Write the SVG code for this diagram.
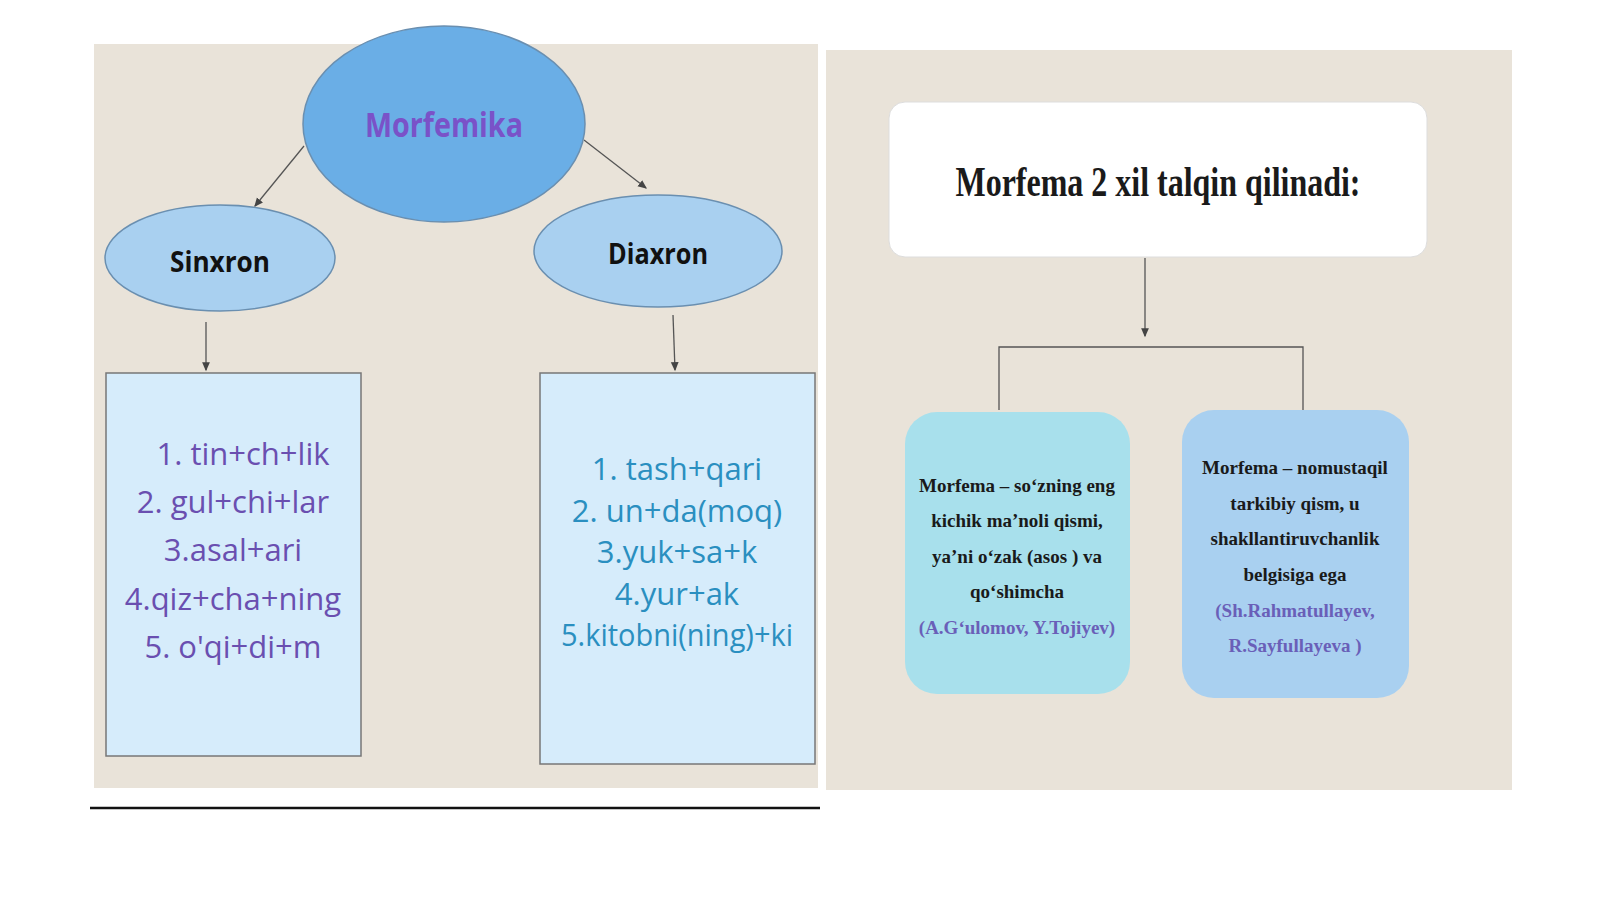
<svg xmlns="http://www.w3.org/2000/svg" width="1600" height="899" viewBox="0 0 1600 899">
<style>
.bg{fill:#e9e3d9}
.ell{stroke:#6a8fb0;stroke-width:1.5}
.lst{font-family:"Open Sans","DejaVu Sans",sans-serif;font-size:31px;text-anchor:middle}
.ser{font-family:"Liberation Serif",serif;font-weight:bold;text-anchor:middle;fill:#1a1a1a}
.con{stroke:#555;stroke-width:1.3;fill:none}
</style>
<defs><marker id="a" markerWidth="8" markerHeight="8" refX="6" refY="4" orient="auto"><path d="M0,1 L7,4 L0,7 z" fill="#444"/></marker></defs>
<rect width="1600" height="899" fill="#fff"/>
<rect class="bg" x="94" y="44" width="724" height="744"/>
<rect class="bg" x="826" y="50" width="686" height="740"/>
<line x1="90" y1="808" x2="820" y2="808" stroke="#111" stroke-width="2.5"/>
<g id="connectors">
<line class="con" x1="304" y1="146" x2="255" y2="206" marker-end="url(#a)"/>
<line class="con" x1="584" y1="140" x2="646" y2="188" marker-end="url(#a)"/>
<line class="con" x1="206" y1="322" x2="206" y2="370" marker-end="url(#a)"/>
<line class="con" x1="673" y1="315" x2="675" y2="370" marker-end="url(#a)"/>
<line class="con" x1="1145" y1="258" x2="1145" y2="336" marker-end="url(#a)"/>
<path class="con" d="M999,410 V347 H1303 V410" stroke="#8aa8c8" stroke-width="2"/>
</g>
<g id="morfemika"><ellipse class="ell" cx="444" cy="124" rx="141" ry="98" fill="#6aaee6"/>
<text x="444" y="137" font-family="Open Sans,DejaVu Sans,sans-serif" font-weight="bold" font-size="34" fill="#7a52c8" text-anchor="middle" textLength="158" lengthAdjust="spacingAndGlyphs">Morfemika</text></g>
<g id="sinxron"><ellipse class="ell" cx="220" cy="258" rx="115" ry="53" fill="#a9d0f0"/>
<text x="220" y="272" font-family="Open Sans,DejaVu Sans,sans-serif" font-weight="bold" font-size="29" fill="#111" text-anchor="middle" textLength="100" lengthAdjust="spacingAndGlyphs">Sinxron</text></g>
<g id="diaxron"><ellipse class="ell" cx="658" cy="251" rx="124" ry="56" fill="#a9d0f0"/>
<text x="658" y="264" font-family="Open Sans,DejaVu Sans,sans-serif" font-weight="bold" font-size="29" fill="#111" text-anchor="middle" textLength="100" lengthAdjust="spacingAndGlyphs">Diaxron</text></g>
<g id="sinxron-list"><rect x="106" y="373" width="255" height="383" fill="#d6ecfb" stroke="#777" stroke-width="1.5"/>
<g class="lst" fill="#6a4fb0"><text x="243" y="465">1. tin+ch+lik</text><text x="233" y="513">2. gul+chi+lar</text><text x="233" y="561">3.asal+ari</text><text x="233" y="610">4.qiz+cha+ning</text><text x="233" y="658">5. o'qi+di+m</text></g></g>
<g id="diaxron-list"><rect x="540" y="373" width="275" height="391" fill="#d6ecfb" stroke="#777" stroke-width="1.5"/>
<g class="lst" fill="#2a8fc0"><text x="677" y="480">1. tash+qari</text><text x="677" y="522">2. un+da(moq)</text><text x="677" y="563">3.yuk+sa+k</text><text x="677" y="605">4.yur+ak</text><text x="677" y="646" textLength="232" lengthAdjust="spacingAndGlyphs">5.kitobni(ning)+ki</text></g></g>
<g id="title"><rect x="889" y="102" width="538" height="155" rx="16" fill="#fff" stroke="#ddd"/>
<text class="ser" x="1158" y="196" font-size="42" textLength="405" lengthAdjust="spacingAndGlyphs">Morfema 2 xil talqin qilinadi:</text></g>
<g id="def1"><rect x="905" y="412" width="225" height="282" rx="32" fill="#a8e0ec"/>
<g class="ser" font-size="19"><text x="1017" y="492">Morfema – so‘zning eng</text><text x="1017" y="527">kichik ma’noli qismi,</text><text x="1017" y="563">ya’ni o‘zak (asos ) va</text><text x="1017" y="598">qo‘shimcha</text><text x="1017" y="634" fill="#6a5fb8">(A.G‘ulomov, Y.Tojiyev)</text></g></g>
<g id="def2"><rect x="1182" y="410" width="227" height="288" rx="32" fill="#a9d0f0"/>
<g class="ser" font-size="19"><text x="1295" y="474">Morfema – nomustaqil</text><text x="1295" y="510">tarkibiy qism, u</text><text x="1295" y="545">shakllantiruvchanlik</text><text x="1295" y="581">belgisiga ega</text><text x="1295" y="617" fill="#6a5fb8">(Sh.Rahmatullayev,</text><text x="1295" y="652" fill="#6a5fb8">R.Sayfullayeva )</text></g></g>
</svg>
